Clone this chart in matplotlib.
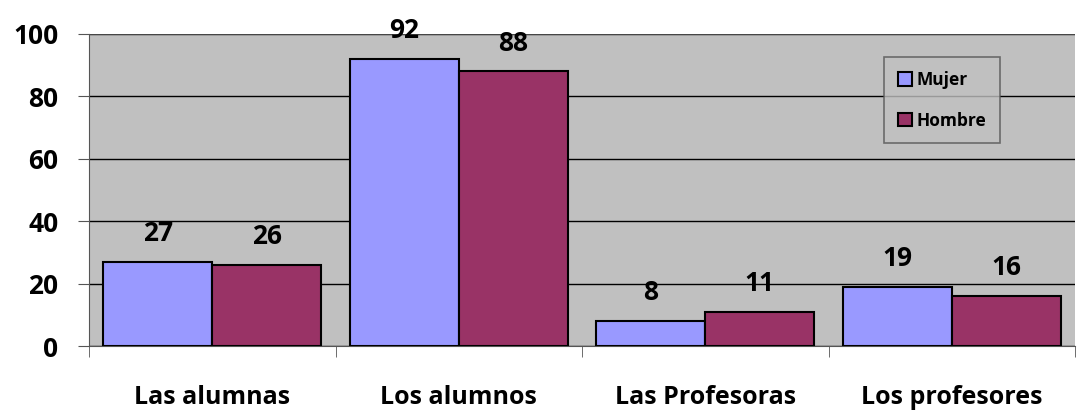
import numpy as np
import matplotlib.pyplot as plt

categorias = ["Las alumnas", "Los alumnos", "Las Profesoras", "Los profesores"]
mujer = [27, 92, 8, 19]
hombre = [26, 88, 11, 16]

plt.rcParams['font.family'] = ['Open Sans', 'DejaVu Sans']
plt.rcParams['font.weight'] = 'bold'

fig = plt.figure(figsize=(10.79, 4.12), dpi=100)
ax = fig.add_axes([0.0825, 0.160, 0.9138, 0.7575])
ax.set_facecolor('#C0C0C0')

x = np.arange(len(categorias))
w = 0.442
b1 = ax.bar(x - w/2, mujer, w, color='#9999FF', edgecolor='black', linewidth=1.5, label='Mujer', zorder=3)
b2 = ax.bar(x + w/2, hombre, w, color='#993366', edgecolor='black', linewidth=1.5, label='Hombre', zorder=3)

for bars, vals in ((b1, mujer), (b2, hombre)):
    for r, v in zip(bars, vals):
        ax.annotate(str(v), (r.get_x() + r.get_width()/2, v), xytext=(0, 15),
                    textcoords='offset points', ha='center', va='baseline',
                    fontsize=19, fontweight='bold')

ax.set_xlim(-0.5, 3.5)
ax.set_ylim(0, 100)
ax.set_yticks(range(0, 101, 20))
ax.yaxis.grid(True, color='black', linewidth=1, zorder=1)
ax.set_axisbelow(True)
ax.set_xticks(x)
ax.set_xticklabels(categorias, fontsize=18, fontweight='bold')
ax.set_xticks(np.arange(-0.5, 4, 1), minor=True)
ax.tick_params(axis='x', which='major', length=0, pad=28)
ax.tick_params(axis='x', which='minor', length=8, color='#555555', direction='out')
ax.tick_params(axis='y', labelsize=19, length=8, color='#555555', pad=14)
for lab in ax.get_yticklabels():
    lab.set_fontweight('bold')

for s in ['top', 'right']:
    ax.spines[s].set_visible(False)
ax.spines['left'].set_color('#555555')
ax.spines['bottom'].set_color('#555555')
ax.axhline(100, color='#555555', linewidth=1.2, zorder=2)

leg = ax.legend(loc='upper left', bbox_to_anchor=(0.806, 0.926), fontsize=12.5,
                frameon=True, fancybox=False, edgecolor='#555555', facecolor='#C0C0C0',
                handlelength=0.8, handleheight=0.8, handletextpad=0.3, labelspacing=1.3,
                borderpad=0.8, borderaxespad=0)
leg.get_frame().set_linewidth(1.2)
for t in leg.get_texts():
    t.set_fontweight('bold')

fig.savefig('out.png', dpi=100)
